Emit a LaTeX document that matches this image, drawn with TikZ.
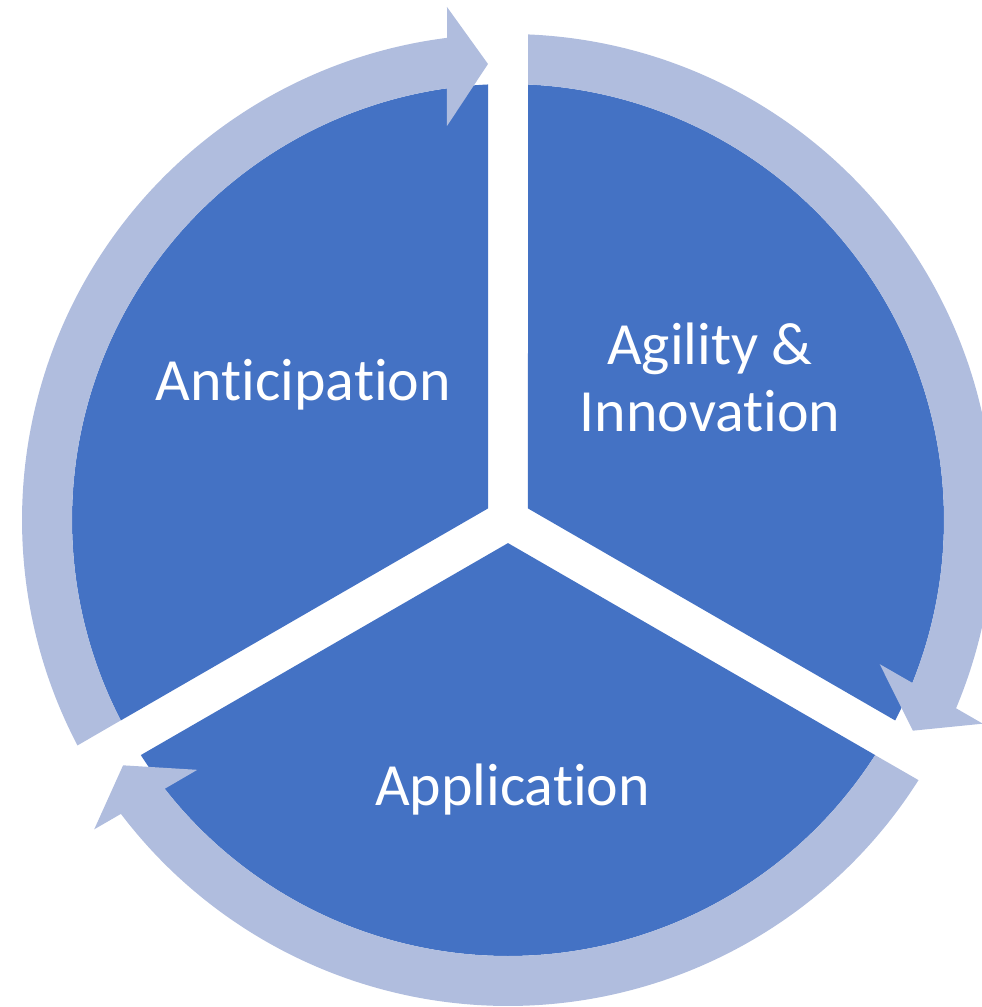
\documentclass[tikz,border=0pt]{standalone}
\usepackage{fontspec}
\setmainfont{Carlito}[RawFeature={-liga;-clig;-calt;-dlig}]
\definecolor{segblue}{RGB}{68,114,196}
\definecolor{ringblue}{RGB}{176,189,222}
\begin{document}
\begin{tikzpicture}[x=0.02cm, y=0.02cm,
    seg/.style={fill=segblue},
    ring/.style={fill=ringblue},
    lbl/.style={text=white, align=center, inner sep=0pt,
      font=\fontsize{34.1pt}{38pt}\selectfont}]
    \useasboundingbox (-508,-487) rectangle (474,520);
    \clip (-508,-487) rectangle (474,520);
    \foreach \a in {90,-30,210} {
        \begin{scope}[rotate=\a]
            \fill[seg] (60:23.09) -- (2.629:436) arc[start angle=2.629, end angle=117.371, radius=436] -- cycle;
            \fill[ring] (117.64:486) arc[start angle=117.64, end angle=7.21, radius=486]
                -- (513,61) -- (456,20) -- (394,61) -- (8.06:436)
                arc[start angle=8.06, end angle=117.36, radius=436] -- cycle;
        \end{scope}
    }
    \node[lbl, anchor=base] (anticipation) at (-204.5,119) {Anticipation};
    \node[lbl, anchor=base] (agility) at (202,88.3) {Agility \&\\Innovation};
    \node[lbl, anchor=base] (application) at (4.5,-285) {Application};
\end{tikzpicture}
\end{document}
